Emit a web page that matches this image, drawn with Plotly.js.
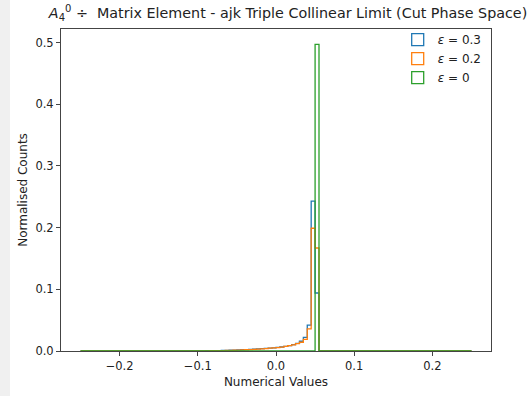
<!DOCTYPE html>
<html>
<head>
<meta charset="utf-8">
<script src="https://cdn.plot.ly/plotly-3.0.1.min.js"></script>
<style>
  html, body { margin: 0; padding: 0; background: #f0f0f0; }
  #chart { position: absolute; left: 10px; top: 0; width: 519px; height: 396px; background: #fff; }
</style>
</head>
<body>
<div id="chart"></div>
<script>
// Histogram bins: 100 bins of width 0.005 from -0.25 to 0.25
const binStart = -0.25;
const binWidth = 0.005;
const seriesNames = ['<i>ε</i> = 0.3', '<i>ε</i> = 0.2', '<i>ε</i> = 0'];
const seriesColors = ['#1f77b4', '#ff7f0e', '#2ca02c'];

// Normalised counts, one value per bin
const countsEps03 = [
  0,0,0,0,0,0,0,0,0,0, 0,0,0,0,0,0,0,0,0,0, 0,0,0.0001,0.0001,0.0001,0.0001,0.0001,0.0002,0.0002,0.0002,
  0.0003,0.0003,0.0004,0.0005,0.0006,0.0007,0.0008,0.0010,0.0012,0.0014,
  0.0017,0.0020,0.0023,0.0027,0.0031,0.0035,0.0039,0.0043,0.0047,0.0052,
  0.0058,0.0065,0.0075,0.0087,0.0102,0.0122,0.0158,0.0222,0.0420,0.2430,
  0.0940,0,0,0,0,0,0,0,0,0, 0,0,0,0,0,0,0,0,0,0, 0,0,0,0,0,0,0,0,0,0, 0,0,0,0,0,0,0,0,0,0
];
const countsEps02 = [
  0,0,0,0,0,0,0,0,0,0, 0,0,0,0,0,0,0,0,0,0, 0,0,0,0.0001,0.0001,0.0001,0.0001,0.0001,0.0001,0.0002,
  0.0002,0.0002,0.0003,0.0004,0.0005,0.0006,0.0007,0.0008,0.0010,0.0012,
  0.0014,0.0017,0.0020,0.0023,0.0027,0.0031,0.0035,0.0040,0.0045,0.0050,
  0.0056,0.0064,0.0074,0.0086,0.0100,0.0118,0.0142,0.0190,0.0360,0.1990,
  0.1670,0,0,0,0,0,0,0,0,0, 0,0,0,0,0,0,0,0,0,0, 0,0,0,0,0,0,0,0,0,0, 0,0,0,0,0,0,0,0,0,0
];
const countsEps0 = [
  0,0,0,0,0,0,0,0,0,0, 0,0,0,0,0,0,0,0,0,0, 0,0,0,0,0,0,0,0,0,0,
  0,0,0,0,0,0,0,0,0,0, 0,0,0,0,0,0,0,0,0,0, 0,0,0,0,0,0,0,0,0,0,
  0.4970,0,0,0,0,0,0,0,0,0, 0,0,0,0,0,0,0,0,0,0, 0,0,0,0,0,0,0,0,0,0, 0,0,0,0,0,0,0,0,0,0
];
const allCounts = [countsEps03, countsEps02, countsEps0];

const xTickVals = [-0.2, -0.1, 0.0, 0.1, 0.2];
const yTickVals = [0.0, 0.1, 0.2, 0.3, 0.4, 0.5];

function stepTrace(counts, name, color) {
  const n = counts.length;
  const xs = [binStart];
  const ys = [0];
  for (let i = 0; i < n; i++) { xs.push(binStart + i * binWidth); ys.push(counts[i]); }
  xs.push(binStart + n * binWidth); ys.push(0);
  return {
    type: 'scatter', mode: 'lines', x: xs, y: ys, name: name,
    line: {shape: 'hv', color: color, width: 1.3},
    showlegend: false, hoverinfo: 'skip'
  };
}
function legendTrace(counts, name, color) {
  const xs = counts.map((c, i) => binStart + (i + 0.5) * binWidth);
  return {
    type: 'bar', x: xs, y: counts, name: name, width: binWidth, yaxis: 'y2',
    marker: {color: 'rgba(0,0,0,0)', line: {color: color, width: 1.3}},
    hoverinfo: 'skip'
  };
}

const data = [];
for (let k = 0; k < 3; k++) data.push(stepTrace(allCounts[k], seriesNames[k], seriesColors[k]));
for (let k = 0; k < 3; k++) data.push(legendTrace(allCounts[k], seriesNames[k], seriesColors[k]));

const tickFont = {family: 'DejaVu Sans', size: 11.5, color: '#222'};
const labelFont = {family: 'DejaVu Sans', size: 12, color: '#222'};
const layout = {
  width: 519, height: 396,
  margin: {l: 51, r: 38, t: 29, b: 45},
  paper_bgcolor: '#fff', plot_bgcolor: '#fff',
  font: {family: 'DejaVu Sans', color: '#222'},
  barmode: 'overlay',
  title: {
    text: '<i>A</i><sub>4</sub><sup>0</sup> ÷  Matrix Element - ajk Triple Collinear Limit (Cut Phase Space)',
    font: {family: 'DejaVu Sans', size: 14.3, color: '#222'},
    x: 0.528, xanchor: 'center', xref: 'paper', y: 0.968, yanchor: 'middle'
  },
  xaxis: {
    range: [-0.275, 0.275], tickvals: xTickVals, tickformat: '.1f',
    showgrid: false, zeroline: false, showline: true, mirror: true,
    linecolor: '#444', linewidth: 1, ticks: 'outside', ticklen: 4, tickcolor: '#444',
    tickfont: tickFont,
    title: {text: 'Numerical Values', font: labelFont, standoff: 5}
  },
  yaxis: {
    range: [0, 0.522], tickvals: yTickVals, tickformat: '.1f',
    showgrid: false, zeroline: false, showline: true, mirror: true,
    linecolor: '#444', linewidth: 1, ticks: 'outside', ticklen: 4, tickcolor: '#444',
    tickfont: tickFont,
    title: {text: 'Normalised Counts', font: labelFont, standoff: 5}
  },
  yaxis2: {overlaying: 'y', range: [5, 6], visible: false, fixedrange: true},
  legend: {
    x: 0.99, xanchor: 'right', y: 1.012, yanchor: 'top',
    bgcolor: 'rgba(255,255,255,0)', borderwidth: 0,
    font: labelFont,
    tracegroupgap: 0
  },
  showlegend: true
};

Plotly.newPlot('chart', data, layout, {displayModeBar: false, staticPlot: true});
</script>
</body>
</html>
